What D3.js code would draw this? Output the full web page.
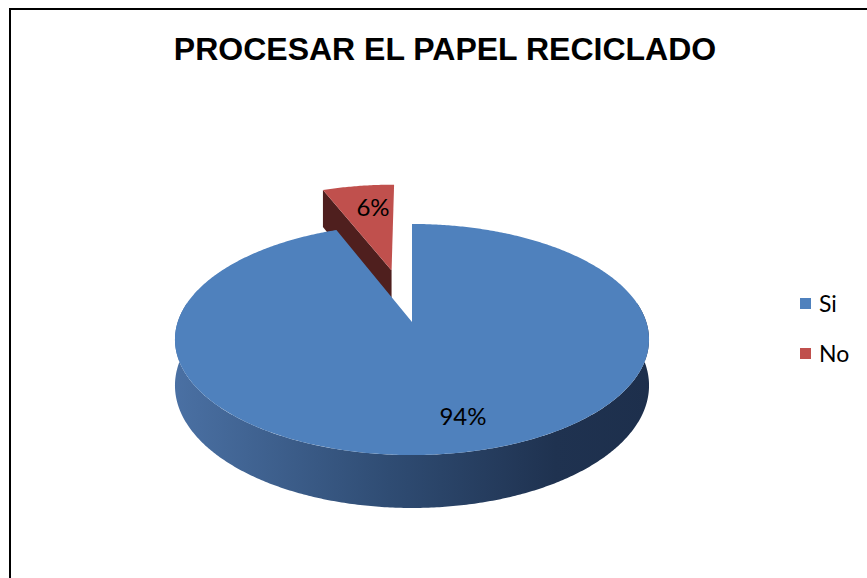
<!DOCTYPE html>
<html>
<head>
<meta charset="utf-8">
<script src="https://cdn.jsdelivr.net/npm/d3@7"></script>
<style>
  body { margin: 0; background: #fff; }
</style>
</head>
<body>
<div id="chart"></div>
<script>
// data
var categories = ["Si", "No"];
var values = [94, 6];
var labels = ["94%", "6%"];
var colors = ["#4f81bd", "#c0504d"];
var title = "PROCESAR EL PAPEL RECICLADO";

var W = 867, H = 578;

var svg = d3.select("#chart")
    .append("svg")
    .attr("width", W)
    .attr("height", H);

// frame (goes off the right and bottom edge like the screenshot)
svg.append("rect")
    .attr("x", 10).attr("y", 9)
    .attr("width", W + 20).attr("height", H + 20)
    .attr("fill", "#fff")
    .attr("stroke", "#000")
    .attr("stroke-width", 2);

svg.append("text")
    .attr("x", 445)
    .attr("y", 60)
    .attr("text-anchor", "middle")
    .style("font-family", "'Liberation Sans', Arial, sans-serif")
    .style("font-weight", "bold")
    .style("font-size", "32px")
    .text(title);

// simple perspective projection of a disc lying flat
var cx = 412, cy = 322;
var A = 234.3, B = 112.9, k = 0.1515, thick = 44.9;
var explode = [0, 0.5];

function proj(X, Z, bottom) {
    var w = 1 - k * Z;
    return [cx + A * X / w, cy + (B * Z + (bottom ? thick : 0)) / w];
}
function rim(t, ox, oz, bottom) {
    return proj(ox + Math.sin(t), oz - Math.cos(t), bottom);
}
function arcPts(a0, a1, ox, oz, bottom) {
    var n = Math.max(4, Math.ceil(Math.abs(a1 - a0) / 0.01));
    return d3.range(n + 1).map(function (i) {
        return rim(a0 + (a1 - a0) * i / n, ox, oz, bottom);
    });
}

var pie = d3.pie().sort(null).value(function (d) { return d; });
var arcs = pie(values);

var line = d3.line();

var defs = svg.append("defs");
var grad = defs.append("linearGradient")
    .attr("id", "sideGrad")
    .attr("gradientUnits", "userSpaceOnUse")
    .attr("x1", 176).attr("x2", 650).attr("y1", 0).attr("y2", 0);
grad.append("stop").attr("offset", "0%").attr("stop-color", "#4a70a3");
grad.append("stop").attr("offset", "45%").attr("stop-color", "#2f4c73");
grad.append("stop").attr("offset", "80%").attr("stop-color", "#1f3250");
grad.append("stop").attr("offset", "100%").attr("stop-color", "#1d2f4c");

var g = svg.append("g");

// draw back (exploded) slice first, then the big one
var order = [1, 0];
order.forEach(function (i) {
    var a = arcs[i];
    var mid = (a.startAngle + a.endAngle) / 2;
    var e = explode[i];
    var ox = e * Math.sin(mid), oz = -e * Math.cos(mid);
    var apexT = proj(ox, oz, false), apexB = proj(ox, oz, true);

    if (i === 1) {
        // visible radial face at start angle
        var face = [apexT, rim(a.startAngle, ox, oz, false),
            rim(a.startAngle, ox, oz, true), apexB];
        g.append("path")
            .attr("d", line(face) + "Z")
            .attr("fill", "#4f1f1e");
    } else {
        // front curved side
        var s0 = Math.PI * 80 / 180, s1 = Math.PI * 280 / 180;
        var top = arcPts(s0, s1, ox, oz, false);
        var bot = arcPts(s1, s0, ox, oz, true);
        g.append("path")
            .attr("d", line(top.concat(bot)) + "Z")
            .attr("fill", "url(#sideGrad)");
    }

    var pts = [apexT].concat(arcPts(a.startAngle, a.endAngle, ox, oz, false));
    g.append("path")
        .attr("d", line(pts) + "Z")
        .attr("fill", colors[i]);
});

// data labels
var labelPos = [[463, 425], [373, 216]];
labels.forEach(function (d, i) {
    svg.append("text")
        .attr("x", labelPos[i][0])
        .attr("y", labelPos[i][1])
        .attr("text-anchor", "middle")
        .style("font-family", "Lato, 'Open Sans', sans-serif")
        .style("font-size", "24px")
        .attr("fill", "#000")
        .text(d);
});

// legend
var legend = svg.append("g")
    .attr("transform", "translate(800,298)");
var item = legend.selectAll("g")
    .data(categories)
    .enter().append("g")
    .attr("transform", function (d, i) { return "translate(0," + (i * 50) + ")"; });
item.append("rect")
    .attr("width", 11).attr("height", 11)
    .attr("fill", function (d, i) { return colors[i]; });
item.append("text")
    .attr("x", 19).attr("y", 14)
    .style("font-family", "Lato, 'Open Sans', sans-serif")
    .style("font-size", "23px")
    .text(function (d) { return d; });
</script>
</body>
</html>
